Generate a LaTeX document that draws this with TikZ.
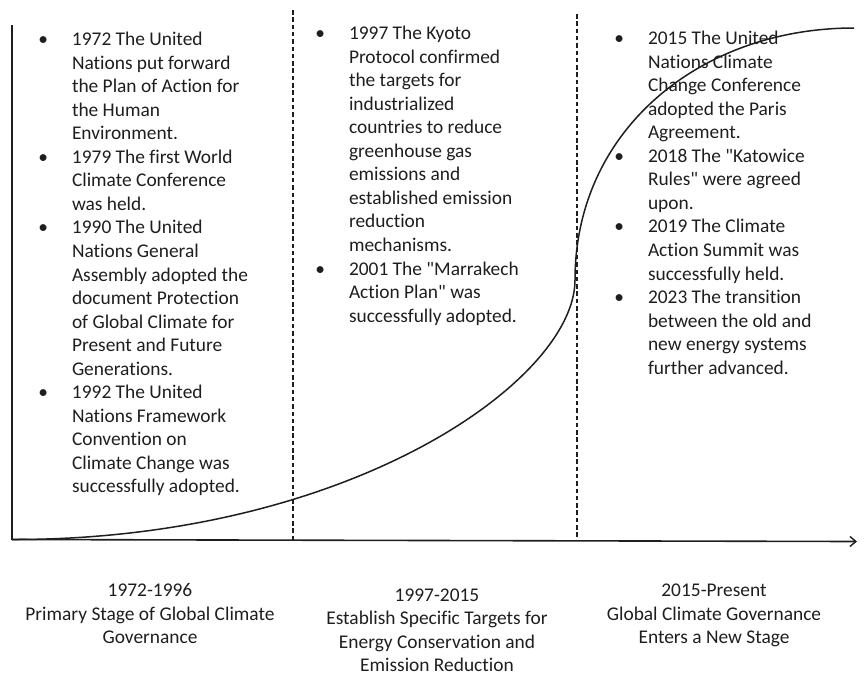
\documentclass[tikz,border=0pt]{standalone}
\usepackage{fontspec}
\setmainfont{Carlito}[Ligatures={TeXOff,CommonOff,ContextualOff}]
\usetikzlibrary{arrows.meta}
\definecolor{ink}{RGB}{30,30,30}
\newcommand\bl[1]{\hbox{\llap{\textbullet\hskip 24pt}#1}}
\newcommand\cl[1]{\hbox{#1}}
\newcommand\lstack[1]{\vtop{\baselineskip=23.55pt\lineskiplimit=-20pt #1}}
\newcommand\cstack[1]{\vtop{\baselineskip=23.55pt\lineskiplimit=-20pt\halign{\hfil##\hfil\cr#1\crcr}}}
\begin{document}
\begin{tikzpicture}[x=1pt,y=1pt,
  txt/.style={inner sep=0pt,outer sep=0pt,text=ink,font=\fontsize{19.4pt}{23.55pt}\selectfont},
  axisline/.style={draw=ink,line width=1.6pt},
  divider/.style={draw=ink,line width=1.1pt,dash pattern=on 4.5pt off 2.8pt},
  growth/.style={draw=ink,line width=1.5pt}]
\useasboundingbox (0,0) rectangle (866,-681);
% axes
\coordinate (top) at (12,-25);
\coordinate (O) at (12,-539.5);
\coordinate (xend) at (857,-541.5);
\draw[axisline] (top) -- (O);
\draw[axisline,-{Straight Barb[length=6pt,width=10pt,line width=1.4pt]}] (O) -- (xend);
% dividers
\coordinate (d1t) at (293,-10);
\coordinate (d1b) at (293,-540);
\coordinate (d2t) at (577,-14);
\coordinate (d2b) at (577,-541);
\draw[divider] (d1t) -- (d1b);
\draw[divider] (d2t) -- (d2b);
% event lists
\node[txt,anchor=base west] (ev1) at (72,-45.5) {\lstack{%
\bl{1972 The United}\cl{Nations put forward}\cl{the Plan of Action for}\cl{the Human}\cl{Environment.}%
\bl{1979 The first World}\cl{Climate Conference}\cl{was held.}%
\bl{1990 The United}\cl{Nations General}\cl{Assembly adopted the}\cl{document Protection}\cl{of Global Climate for}\cl{Present and Future}\cl{Generations.}%
\bl{1992 The United}\cl{Nations Framework}\cl{Convention on}\cl{Climate Change was}\cl{successfully adopted.}}};
\node[txt,anchor=base west] (ev2) at (349,-39.5) {\lstack{%
\bl{1997 The Kyoto}\cl{Protocol confirmed}\cl{the targets for}\cl{industrialized}\cl{countries to reduce}\cl{greenhouse gas}\cl{emissions and}\cl{established emission}\cl{reduction}\cl{mechanisms.}%
\bl{2001 The "Marrakech}\cl{Action Plan" was}\cl{successfully adopted.}}};
\node[txt,anchor=base west] (ev3) at (648,-44.5) {\lstack{%
\bl{2015 The United}\cl{Nations Climate}\cl{Change Conference}\cl{adopted the Paris}\cl{Agreement.}%
\bl{2018 The "Katowice}\cl{Rules" were agreed}\cl{upon.}%
\bl{2019 The Climate}\cl{Action Summit was}\cl{successfully held.}%
\bl{2023 The transition}\cl{between the old and}\cl{new energy systems}\cl{further advanced.}}};
% stage labels
\node[txt,anchor=base] (st1) at (150,-596.5) {\cstack{1972-1996\cr Primary Stage of Global Climate\cr Governance}};
\node[txt,anchor=base] (st2) at (437,-601) {\cstack{1997-2015\cr Establish Specific Targets for\cr Energy Conservation and\cr Emission Reduction}};
\node[txt,anchor=base] (st3) at (714,-596.5) {\cstack{2015-Present\cr Global Climate Governance\cr Enters a New Stage}};
% growth curve
\coordinate (mid) at (575,-280);
\coordinate (cend) at (854,-28);
\draw[growth] (O) .. controls (350,-540) and (575,-380) .. (mid)
  .. controls (575,-130) and (700,-28) .. (cend);
\end{tikzpicture}
\end{document}
